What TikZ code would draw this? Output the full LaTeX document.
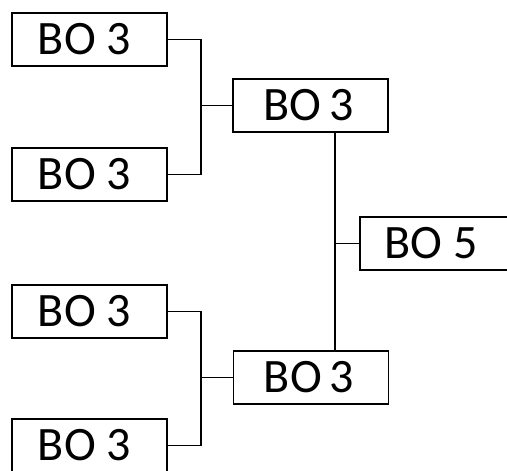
\documentclass[tikz,border=0pt]{standalone}
\usepackage{fontspec}
\setmainfont{Carlito}
\begin{document}
\begin{tikzpicture}[x=1pt,y=-1pt,
  box/.style={draw,line width=1.7pt,rectangle,minimum width=155pt,minimum height=53pt,inner sep=0pt,font=\fontsize{48}{54}\selectfont},
  link/.style={line width=1.7pt}]
\useasboundingbox (0,0) rectangle (507,471);
\clip (0,0) rectangle (507,471);
\node[box] (a1) at (89.5,39.5) {BO 3\hspace*{10pt}};
\node[box] (a2) at (89.5,174.5) {BO 3\hspace*{10pt}};
\node[box] (a3) at (89.5,311.5) {BO 3\hspace*{10pt}};
\node[box] (a4) at (89.5,445.5) {BO 3\hspace*{10pt}};
\node[box] (b1) at (310.5,105.5) {BO\,3\hspace*{4pt}};
\node[box] (b2) at (311,377.5) {BO\,3\hspace*{4pt}};
\node[box] (c) at (437.5,243.5) {BO 5\hspace*{13pt}};
\coordinate (j1) at (201,105.5);
\coordinate (j2) at (201,377.5);
\coordinate (j3) at (335,243.5);
\draw[link] (a1.east) -| (j1) |- (a2.east);
\draw[link] (j1) -- (b1.west);
\draw[link] (a3.east) -| (j2) |- (a4.east);
\draw[link] (j2) -- (b2.west);
\draw[link] (b1.south -| j3) -- (b2.north -| j3);
\draw[link] (j3) -- (c.west);
\end{tikzpicture}
\end{document}
